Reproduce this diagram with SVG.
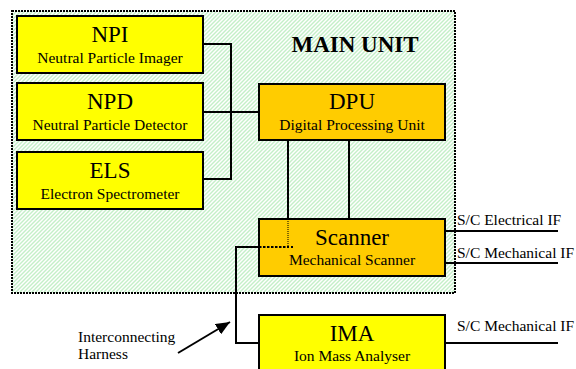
<svg xmlns="http://www.w3.org/2000/svg" width="576" height="369" viewBox="0 0 576 369">
<defs>
<pattern id="hatch" patternUnits="userSpaceOnUse" width="4" height="4">
<rect width="4" height="4" fill="#ffffff"/>
<path d="M-1,1 L1,-1 M0,4 L4,0 M3,5 L5,3" stroke="#c4efc8" stroke-width="1.4"/>
</pattern>
<marker id="arrowBig" markerWidth="14" markerHeight="12" refX="14" refY="6" orient="auto" markerUnits="userSpaceOnUse" viewBox="0 0 14 12">
<path d="M0,0 L14,6 L0,12 z" fill="#000"/>
</marker>
</defs>
<style>
.box{stroke:#000;stroke-width:2}
.yel{fill:#ffff00}
.gold{fill:#ffcc00}
.c{fill:none;stroke:#000;stroke-width:2}
</style>

<g id="main-unit">
<rect x="12" y="11" width="443" height="282" fill="url(#hatch)" stroke="#000" stroke-width="2" stroke-dasharray="2,1"/>
<text x="355" y="52" font-family="Liberation Serif, serif" font-size="23" font-weight="bold" text-anchor="middle">MAIN UNIT</text>
</g>

<g id="connectors">
<polyline class="c" points="203,44 231,44 231,179 203,179"/>
<line class="c" x1="203" y1="112" x2="259" y2="112"/>
<line class="c" x1="288" y1="140" x2="288" y2="219"/>
<line class="c" x1="349" y1="140" x2="349" y2="219"/>
<polyline class="c" points="259,247 236,247 236,343 259,343"/>
<line class="c" x1="445" y1="231" x2="558" y2="231"/>
<line class="c" x1="445" y1="263" x2="558" y2="263"/>
<line class="c" x1="445" y1="343" x2="558" y2="343"/>
<line x1="178" y1="353" x2="230" y2="322" stroke="#000" stroke-width="2" marker-end="url(#arrowBig)"/>
</g>

<g id="npi">
<rect class="box yel" x="17" y="16" width="186" height="57"/>
<text x="110" y="42" font-family="Liberation Serif, serif" font-size="23" text-anchor="middle">NPI</text>
<text x="110" y="63" font-family="Liberation Serif, serif" font-size="15.5" text-anchor="middle">Neutral Particle Imager</text>
</g>
<g id="npd">
<rect class="box yel" x="17" y="83" width="186" height="57"/>
<text x="110" y="109" font-family="Liberation Serif, serif" font-size="23" text-anchor="middle">NPD</text>
<text x="110" y="130" font-family="Liberation Serif, serif" font-size="15.5" text-anchor="middle">Neutral Particle Detector</text>
</g>
<g id="els">
<rect class="box yel" x="17" y="152" width="186" height="57"/>
<text x="110" y="178" font-family="Liberation Serif, serif" font-size="23" text-anchor="middle">ELS</text>
<text x="110" y="199" font-family="Liberation Serif, serif" font-size="15.5" text-anchor="middle">Electron Spectrometer</text>
</g>
<g id="dpu">
<rect class="box gold" x="259" y="84" width="186" height="56"/>
<text x="352" y="109" font-family="Liberation Serif, serif" font-size="23" text-anchor="middle">DPU</text>
<text x="352" y="130" font-family="Liberation Serif, serif" font-size="15.5" text-anchor="middle">Digital Processing Unit</text>
</g>
<g id="scanner">
<rect class="box gold" x="259" y="219" width="186" height="57"/>
<text x="352" y="245" font-family="Liberation Serif, serif" font-size="23" text-anchor="middle">Scanner</text>
<text x="352" y="265" font-family="Liberation Serif, serif" font-size="15.5" text-anchor="middle">Mechanical Scanner</text>
<polyline points="288,219 288,247 259,247" fill="none" stroke="#000" stroke-width="1" stroke-dasharray="1,1"/>
<line x1="259" y1="247" x2="293" y2="247" stroke="#000" stroke-width="2" stroke-dasharray="2,2"/>
</g>
<g id="ima">
<rect class="box yel" x="259" y="315" width="186" height="60"/>
<text x="352" y="341" font-family="Liberation Serif, serif" font-size="23" text-anchor="middle">IMA</text>
<text x="352" y="361" font-family="Liberation Serif, serif" font-size="15.5" text-anchor="middle">Ion Mass Analyser</text>
</g>

<g id="labels">
<text x="457" y="225" font-family="Liberation Serif, serif" font-size="15.5">S/C Electrical IF</text>
<text x="457" y="258" font-family="Liberation Serif, serif" font-size="15.5">S/C Mechanical IF</text>
<text x="457" y="331" font-family="Liberation Serif, serif" font-size="15.5">S/C Mechanical IF</text>
<text x="78" y="342" font-family="Liberation Serif, serif" font-size="15.5">Interconnecting</text>
<text x="78" y="359" font-family="Liberation Serif, serif" font-size="15.5">Harness</text>
</g>
</svg>
